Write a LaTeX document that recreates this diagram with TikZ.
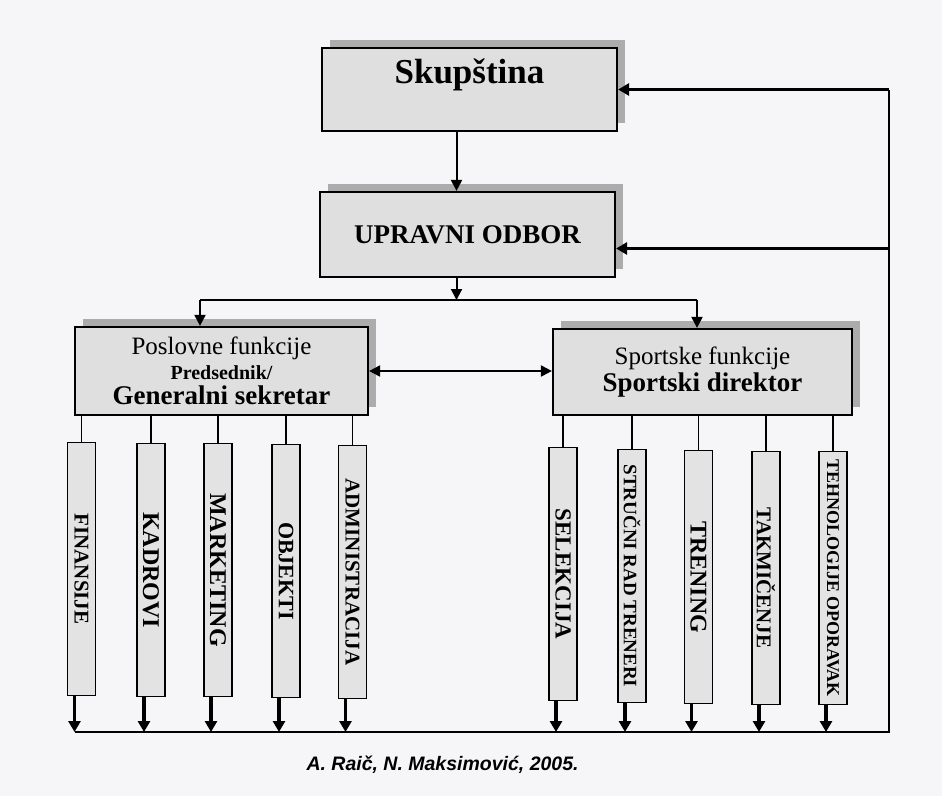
\documentclass[tikz,border=0pt]{standalone}
\usepackage{fontspec}
\setmainfont{Liberation Serif}
\newfontfamily\capfont{Liberation Sans}
\usetikzlibrary{arrows.meta,shadows}

\begin{document}
\begin{tikzpicture}
    [x=1pt,y=-1pt,
     box/.style={draw,line width=2.2pt,fill=gray!25,inner sep=0pt,
                 general shadow={shadow xshift=8pt,shadow yshift=8pt,fill=gray!65}},
     barsize/.style={font=\bfseries\fontsize{#1}{#1}\selectfont},
     bar/.style={draw,line width=1.8pt,fill=gray!22,inner sep=0pt,
                 minimum width=28pt,minimum height=253pt,barsize=21},
     link/.style={line width=1.5pt},
     arr/.style={line width=2pt,-{Triangle[length=11pt,width=11pt]}},
     both/.style={line width=2pt,{Triangle[length=11pt,width=11pt]}-{Triangle[length=11pt,width=11pt]}},
     fat/.style={line width=3.5pt,-{Triangle[length=11pt,width=12pt]}}]
    \useasboundingbox[fill={rgb,255:red,246;green,246;blue,249}] (0,0) rectangle (942,796);

    % top of the chart
    \node[box,minimum width=295pt,text height=35pt,text depth=48pt,
          font=\bfseries\fontsize{35}{35}\selectfont] (skup) at (469.5,89.5) {Skupština};
    \node[box,minimum width=295pt,minimum height=85pt,
          font=\bfseries\fontsize{27}{27}\selectfont] (upr) at (467.5,234.5) {UPRAVNI ODBOR};

    % two functions
    \node[box,minimum width=293pt,minimum height=88pt,align=center,
          font=\fontsize{25}{22}\selectfont] (posl) at (221.5,371)
        {Poslovne funkcije\\[3pt]{\bfseries\fontsize{20}{22}\selectfont Predsednik/}\\[3pt]
         {\bfseries\fontsize{27}{22}\selectfont Generalni sekretar}};
    \node[box,minimum width=299pt,minimum height=86pt,align=center,
          font=\fontsize{25}{27}\selectfont] (sport) at (702.5,372)
        {Sportske funkcije\\{\bfseries\fontsize{27}{27}\selectfont Sportski direktor}};

    % poslovne
    \node[bar] (fin) at (81.5,569) {\rotatebox{-90}{FINANSIJE}};
    \node[bar,barsize=24] (kad) at (151,570) {\rotatebox{-90}{KADROVI}};
    \node[bar,barsize=24] (mar) at (218,570) {\rotatebox{-90}{MARKETING}};
    \node[bar,barsize=22] (obj) at (286,571) {\rotatebox{-90}{OBJEKTI}};
    \node[bar] (adm) at (352.5,572) {\rotatebox{-90}{ADMINISTRACIJA}};

    % sportske
    \node[bar,barsize=23] (sel) at (563,574) {\rotatebox{-90}{SELEKCIJA}};
    \node[bar,barsize=19] (str) at (632,576) {\rotatebox{-90}{STRUČNI RAD TRENERI}};
    \node[bar,barsize=24] (tre) at (698.5,577) {\rotatebox{-90}{TRENING}};
    \node[bar] (tak) at (766,578) {\rotatebox{-90}{TAKMIČENJE}};
    \node[bar,barsize=18] (teh) at (833,578) {\rotatebox{-90}{TEHNOLOGIJE OPORAVAK}};

    \node[anchor=west,font=\capfont\bfseries\itshape\fontsize{19.5}{20}\selectfont]
        (src) at (303,765) {A. Raič, N. Maksimović, 2005.};

    \coordinate (splitL) at (200,300);
    \coordinate (splitR) at (697,300);
    \coordinate (busL) at (74.5,732);
    \coordinate (busR) at (889,732);
    \coordinate (uprIn) at ([yshift=-14pt]upr.east);
    \coordinate (down) at ([xshift=-13pt]skup.south);

    \draw[arr] (down) -- (down |- upr.north);
    \draw[arr] (down |- upr.south) -- (down |- splitL);
    \draw[link] (splitL) -- (splitR);
    \draw[arr] (splitL) -- (splitL |- posl.north);
    \draw[arr] (splitR) -- (splitR |- sport.north);
    \draw[both] (posl.east) -- (posl.east -| sport.west);

    \foreach \b in {fin,kad,mar,obj,adm}
        \draw[link] (posl.south -| \b.north) -- (\b.north);
    \foreach \b in {sel,str,tre,tak,teh}
        \draw[link] (sport.south -| \b.north) -- (\b.north);
    \foreach \b in {fin,kad,mar,obj,adm,sel,str,tre,tak,teh}
        \draw[fat] ([xshift=-7pt]\b.south) -- ([xshift=-7pt]\b.south |- busL);

    % back to the top
    \draw[link] (busL) -- (busR) -- (busR |- skup.east);
    \draw[fat] (busR |- skup.east) -- (skup.east);
    \draw[fat] (uprIn -| busR) -- (uprIn);
\end{tikzpicture}
\end{document}
